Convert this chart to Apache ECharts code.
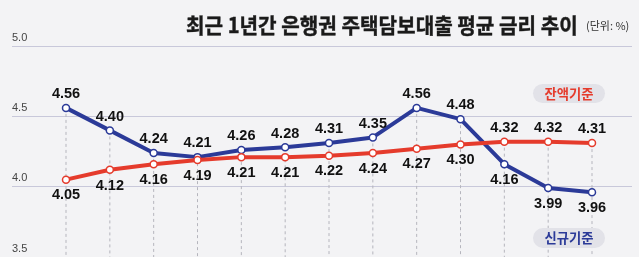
<!DOCTYPE html>
<html>
<head>
<meta charset="utf-8">
<script src="https://cdn.jsdelivr.net/npm/echarts@6/dist/echarts.min.js"></script>
<style>html,body{margin:0;padding:0;background:#f3f3f5;}#c{width:639px;height:257px;}</style>
</head>
<body>
<div id="c"></div>
<script>
const categories = ['1','2','3','4','5','6','7','8','9','10','11','12','13'];
const newRates = [4.56, 4.40, 4.24, 4.21, 4.26, 4.28, 4.31, 4.35, 4.56, 4.48, 4.16, 3.99, 3.96];
const balanceRates = [4.05, 4.12, 4.16, 4.19, 4.21, 4.21, 4.22, 4.24, 4.27, 4.30, 4.32, 4.32, 4.31];
const newLabelPos = ['top','top','top','top','top','top','top','top','top','top','bottom','bottom','bottom'];
const balLabelPos = ['bottom','bottom','bottom','bottom','bottom','bottom','bottom','bottom','bottom','bottom','top','top','top'];
const yMin = 3.5, yMax = 5.0, yStep = 0.5;
const titleText = '최근 1년간 은행권 주택담보대출 평균 금리 추이';
const unitText = '(단위: %)';
const BLUE = '#2b3a98', RED = '#e53b2c';

const chart = echarts.init(document.getElementById('c'));
const labelFont = {fontFamily:'Liberation Sans', fontWeight:'bold', fontSize:14.5, color:'#111',
  formatter:p=>Number(p.value).toFixed(2)};
function mkData(vals, pos){
  return vals.map((v,i)=>({value:v, label:{position:pos[i], distance: pos[i]==='top'?2:4}}));
}
const maxVals = categories.map((c,i)=>[i, Math.max(newRates[i], balanceRates[i])]);
chart.setOption({
  backgroundColor:'#f3f3f5',
  animation:false,
  grid:[
    {left:12, right:7, top:46, bottom:-2},
    {left:66, right:47, top:46, bottom:-2}
  ],
  xAxis:[
    {gridIndex:0, type:'value', show:false, min:0, max:1},
    {gridIndex:1, type:'category', data:categories, boundaryGap:false, show:false}
  ],
  yAxis:[
    {gridIndex:0, type:'value', min:yMin, max:yMax, interval:yStep,
     axisLine:{show:false}, axisTick:{show:false},
     splitLine:{lineStyle:{color:'#c8c8da', width:1}},
     axisLabel:{inside:true, margin:0, verticalAlign:'bottom', padding:[0,0,3,0],
       formatter:v=>v.toFixed(1), fontFamily:'Liberation Sans', fontSize:11, color:'#444'}},
    {gridIndex:1, type:'value', min:yMin, max:yMax, show:false, splitLine:{show:false}}
  ],
  series:[
    {type:'custom', xAxisIndex:1, yAxisIndex:1, data:maxVals, z:1, silent:true,
     renderItem:(params, api)=>{
       const top = api.coord([api.value(0), api.value(1)]);
       const bot = api.coord([api.value(0), yMin]);
       return {type:'line', shape:{x1:top[0], y1:top[1], x2:bot[0], y2:bot[1]},
         style:{stroke:'#b5b5bd', lineWidth:1, lineDash:[3,3]}};
     }},
    {type:'line', name:'신규기준', xAxisIndex:1, yAxisIndex:1, data:mkData(newRates,newLabelPos),
     lineStyle:{color:BLUE, width:4}, symbol:'circle', symbolSize:7,
     itemStyle:{color:'#fff', borderColor:BLUE, borderWidth:1.5}, z:3,
     label:Object.assign({show:true}, labelFont)},
    {type:'line', name:'잔액기준', xAxisIndex:1, yAxisIndex:1, data:mkData(balanceRates,balLabelPos),
     lineStyle:{color:RED, width:4}, symbol:'circle', symbolSize:7,
     itemStyle:{color:'#fff', borderColor:RED, borderWidth:1.5}, z:4,
     label:Object.assign({show:true}, labelFont)}
  ],
  graphic:[
    {type:'text', x:186, y:25, scaleX:0.96, style:{text:titleText, x:0, y:0, verticalAlign:'middle',
      font:'bold 21px "Noto Sans CJK KR"', fill:'#1a1a1a', stroke:'#1a1a1a', lineWidth:0.4}},
    {type:'text', x:586, y:26, style:{text:unitText, x:0, y:0, verticalAlign:'middle',
      font:'11px "Noto Sans CJK KR"', fill:'#333'}},
    {type:'rect', shape:{x:533, y:84, width:72, height:19, r:9.5}, style:{fill:'#e2e2e8'}, z:10},
    {type:'text', x:569, y:94, scaleX:0.95, z:11, style:{text:'잔액기준', x:0, y:0, align:'center', verticalAlign:'middle',
      font:'bold 14px "Noto Sans CJK KR"', fill:RED}},
    {type:'rect', shape:{x:533, y:228, width:72, height:20, r:10}, style:{fill:'#e2e2e8'}, z:10},
    {type:'text', x:569, y:238, scaleX:0.95, z:11, style:{text:'신규기준', x:0, y:0, align:'center', verticalAlign:'middle',
      font:'bold 14px "Noto Sans CJK KR"', fill:BLUE}}
  ]
});
</script>
</body>
</html>
